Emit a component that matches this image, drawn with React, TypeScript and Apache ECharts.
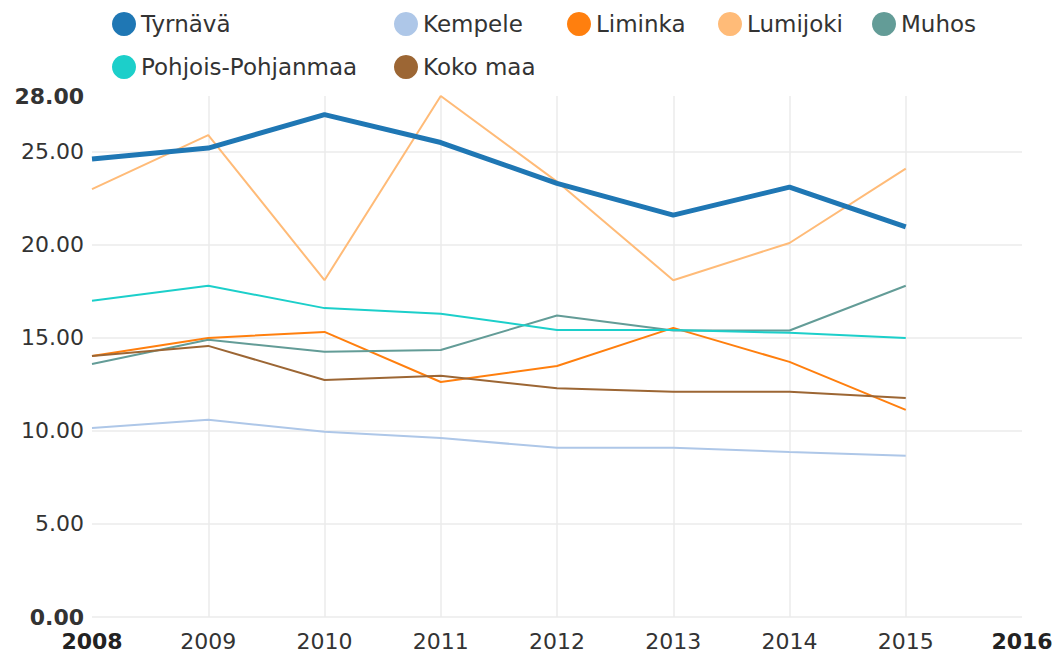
import React, { useEffect, useRef } from "react";
import * as echarts from "echarts";

const years = [2008, 2009, 2010, 2011, 2012, 2013, 2014, 2015];
const seriesNames = ["Tyrnävä", "Kempele", "Liminka", "Lumijoki", "Muhos", "Pohjois-Pohjanmaa", "Koko maa"];
const tyrnava = [24.62, 25.2, 27.0, 25.5, 23.3, 21.6, 23.1, 20.97];
const kempele = [10.16, 10.6, 9.95, 9.62, 9.09, 9.09, 8.87, 8.66];
const liminka = [14.03, 15.0, 15.32, 12.63, 13.49, 15.54, 13.71, 11.13];
const lumijoki = [23.0, 25.9, 18.1, 28.0, 23.4, 18.1, 20.1, 24.1];
const muhos = [13.6, 14.9, 14.25, 14.35, 16.2, 15.4, 15.4, 17.8];
const pohjois = [17.0, 17.8, 16.6, 16.3, 15.43, 15.43, 15.27, 15.0];
const kokomaa = [14.03, 14.57, 12.74, 12.96, 12.3, 12.1, 12.1, 11.77];

const allValues = [tyrnava, kempele, liminka, lumijoki, muhos, pohjois, kokomaa];
const colors = ["#1f77b4", "#aec7e8", "#ff7f0e", "#ffbb78", "#639c97", "#1ccfca", "#9c6634"];
const widths = [5, 2, 2, 2, 2, 2, 2];
const legendPos = [
  [112, 12], [394, 12], [567, 12], [718, 12], [872, 12],
  [112, 55], [394, 55],
];

const FONT = "DejaVu Sans";
const FS = 22;
const LFS = 23;

export default function App() {
  const ref = useRef<HTMLDivElement>(null);
  useEffect(() => {
    const chart = echarts.init(ref.current!, null, { renderer: "svg" });
    chart.setOption({
      animation: false,
      color: colors,
      textStyle: { fontFamily: FONT },
      legend: seriesNames.map((n, i) => ({
        data: [n],
        left: legendPos[i][0],
        top: legendPos[i][1],
        padding: 0,
        icon: "circle",
        itemWidth: 24,
        itemHeight: 24,
        textStyle: { fontFamily: FONT, fontSize: LFS, color: "#333" },
      })),
      grid: { left: 92, right: 38, top: 96, bottom: 38 },
      xAxis: {
        type: "value",
        min: 2008,
        max: 2016,
        interval: 1,
        axisLine: { show: false },
        axisTick: { show: false },
        axisLabel: {
          margin: 13,
          fontFamily: FONT,
          fontSize: FS,
          color: "#333",
          formatter: (v: number) => (v === 2008 || v === 2016 ? "{b|" + v + "}" : String(v)),
          rich: { b: { fontWeight: "bold", fontFamily: FONT, fontSize: FS, color: "#222" } },
        },
        splitLine: { show: true, showMinLine: false, showMaxLine: false, lineStyle: { color: "#ebebeb", width: 1.5 } },
      },
      yAxis: {
        type: "value",
        min: 0,
        max: 28,
        interval: 5,
        axisLine: { show: false },
        axisTick: { show: false },
        axisLabel: {
          margin: 8,
          fontFamily: FONT,
          fontSize: FS,
          color: "#333",
          formatter: (v: number) => (v === 0 || v === 28 ? "{b|" + v.toFixed(2) + "}" : v.toFixed(2)),
          rich: { b: { fontWeight: "bold", fontFamily: FONT, fontSize: FS, color: "#333" } },
        },
        splitLine: { show: true, showMinLine: true, showMaxLine: false, lineStyle: { color: "#ebebeb", width: 1.5 } },
      },
      series: seriesNames.map((n, i) => ({
        name: n,
        type: "line",
        data: years.map((y, j) => [y, allValues[i][j]]),
        showSymbol: false,
        symbol: "none",
        lineStyle: { width: widths[i], color: colors[i] },
        itemStyle: { color: colors[i] },
        z: i === 0 ? 3 : 2,
      })),
    });
    return () => chart.dispose();
  }, []);
  return <div ref={ref} style={{ width: 1060, height: 655, position: "absolute", left: 0, top: 0 }} />;
}
